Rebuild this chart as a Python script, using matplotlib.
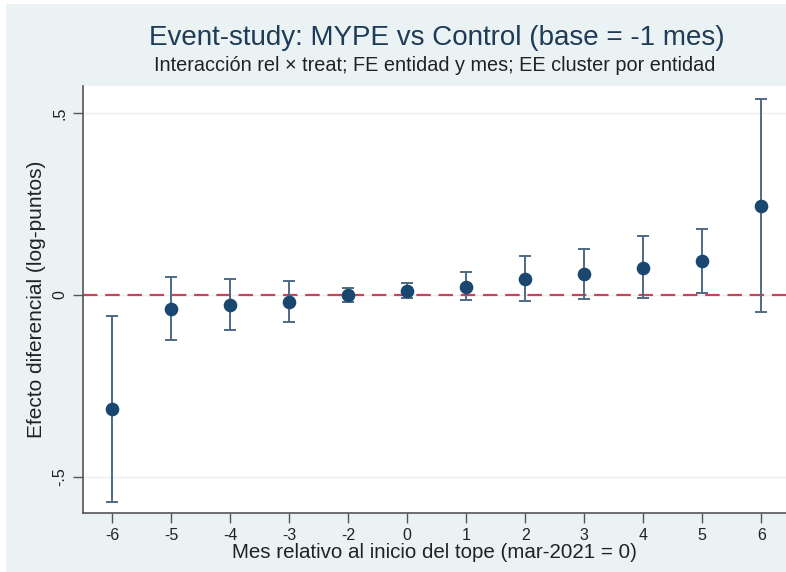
import matplotlib
matplotlib.use("Agg")
import matplotlib.pyplot as plt
from matplotlib.patches import Rectangle

# event-study coefficients
rel_labels = ["-6", "-5", "-4", "-3", "-2", "0", "1", "2", "3", "4", "5", "6"]
coef = [-0.313, -0.038, -0.027, -0.019, -0.001, 0.012, 0.023, 0.044, 0.057, 0.075, 0.093, 0.245]
ci_low = [-0.568, -0.124, -0.096, -0.073, -0.020, -0.009, -0.015, -0.016, -0.012, -0.009, 0.005, -0.048]
ci_high = [-0.057, 0.048, 0.044, 0.037, 0.020, 0.032, 0.062, 0.107, 0.126, 0.161, 0.182, 0.537]
yticks = [-0.5, 0, 0.5]
ytick_labels = ["-.5", "0", ".5"]

plt.rcParams["font.family"] = ["Liberation Sans", "DejaVu Sans"]

bg = "#eaf2f3"
fig = plt.figure(figsize=(7.86, 5.72), dpi=100, facecolor="white")
# stata-like graph region (thin white strip left/top as in the screenshot)
fig.patches.append(Rectangle((6 / 786, 0), 1, 1 - 4 / 572, transform=fig.transFigure,
                             facecolor=bg, edgecolor="none", zorder=-10))

ax = fig.add_axes([0.1056, 0.1031, 0.8944, 0.7466])
ax.set_facecolor("white")

x = list(range(1, len(rel_labels) + 1))
yerr = [[c - lo for c, lo in zip(coef, ci_low)], [hi - c for c, hi in zip(coef, ci_high)]]

for yt in yticks:
    ax.axhline(yt, color="#eeeeee", lw=1.0, zorder=0)
ax.axhline(0, color="#c8435f", lw=1.6, ls=(0, (6.5, 3.5)), zorder=1)

ax.errorbar(x, coef, yerr=yerr, fmt="none", ecolor="#4f6a85", elinewidth=1.4,
            capsize=4, capthick=1.4, zorder=2)
ax.plot(x, coef, "o", color="#1a476f", ms=8.8, zorder=3)

ax.set_xlim(0.508, 12.42)
ax.set_ylim(-0.599, 0.574)
ax.set_xticks(x)
ax.set_xticklabels(rel_labels)
ax.set_yticks(yticks)
ax.set_yticklabels(ytick_labels, rotation=90, va="center")

for s in ["top", "right"]:
    ax.spines[s].set_visible(False)
for s in ["left", "bottom"]:
    ax.spines[s].set_color("#555555")
    ax.spines[s].set_linewidth(1.2)
ax.tick_params(axis="both", length=7, width=1.0, color="#555555", labelsize=11.5, labelcolor="#222222", pad=4)

ax.set_xlabel("Mes relativo al inicio del tope (mar-2021 = 0)", fontsize=14.8, color="#222222", labelpad=0)
ax.set_ylabel("Efecto diferencial (log-puntos)", fontsize=15, color="#222222", labelpad=5)

fig.text(0.556, 1 - 45 / 572, "Event-study: MYPE vs Control (base = -1 mes)", ha="center", va="baseline",
         fontsize=20, color="#1e3b57")
fig.text(0.553, 1 - 71 / 572, "Interacción rel × treat; FE entidad y mes; EE cluster por entidad", ha="center",
         va="baseline", fontsize=14.3, color="#222222")

fig.savefig("out.png", dpi=100, facecolor="white")
